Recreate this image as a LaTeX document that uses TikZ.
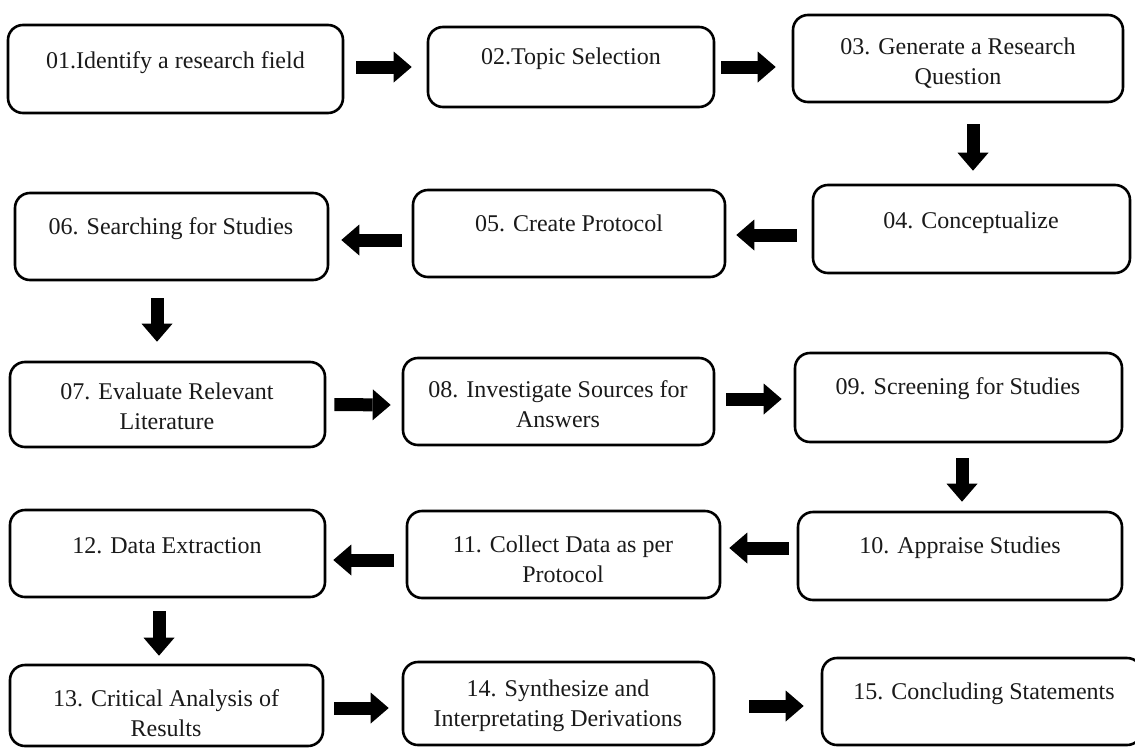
\documentclass[tikz,border=0pt]{standalone}
\usepackage{fontspec}
\setmainfont{Liberation Serif}
\usetikzlibrary{arrows.meta}
\definecolor{ink}{HTML}{1A1A1A}
\tikzset{
  stepbox/.style={draw=black, line width=2.6pt, rounded corners=15pt, inner sep=0pt, fill=white},
  steptext/.style={align=center, inner sep=0pt, text=ink, font=\fontsize{24}{30}\selectfont},
  blk/.style={draw=black, line width=13pt, -{Triangle[length=18pt,width=31pt,line width=0pt]}},
}
\begin{document}
\begin{tikzpicture}[x=1pt,y=-1pt]
\useasboundingbox (0,0) rectangle (1135,747);
% boxes
\node[stepbox, minimum width=335pt, minimum height=88pt] (b1) at (175.5,69) {};
\node[stepbox, minimum width=286pt, minimum height=80pt] (b2) at (571,67) {};
\node[stepbox, minimum width=330pt, minimum height=87pt] (b3) at (958,58.5) {};
\node[stepbox, minimum width=317pt, minimum height=88pt] (b4) at (971.5,229) {};
\node[stepbox, minimum width=312pt, minimum height=87pt] (b5) at (569,233.5) {};
\node[stepbox, minimum width=313pt, minimum height=87pt] (b6) at (171.5,236.5) {};
\node[stepbox, minimum width=315pt, minimum height=85pt] (b7) at (167.5,404.5) {};
\node[stepbox, minimum width=311pt, minimum height=87pt] (b8) at (558.5,401.5) {};
\node[stepbox, minimum width=327pt, minimum height=89pt] (b9) at (958.5,397.5) {};
\node[stepbox, minimum width=324pt, minimum height=88pt] (b10) at (960,556) {};
\node[stepbox, minimum width=313pt, minimum height=87pt] (b11) at (563.5,554.5) {};
\node[stepbox, minimum width=315pt, minimum height=87pt] (b12) at (167.5,553.5) {};
\node[stepbox, minimum width=313pt, minimum height=81pt] (b13) at (166.5,705.5) {};
\node[stepbox, minimum width=311pt, minimum height=83pt] (b14) at (558.5,703.5) {};
\node[stepbox, minimum width=320pt, minimum height=87pt] (b15) at (982,701.5) {};
% texts
\node[steptext] (t1) at (175.5,63) {01.Identify a research field};
\node[steptext] (t2) at (571,59) {02.Topic Selection};
\node[steptext] (t3) at (958,63) {03. Generate a Research\\Question};
\node[steptext] (t4) at (971,223) {04. Conceptualize};
\node[steptext] (t5) at (569,223) {05. Create Protocol};
\node[steptext] (t6) at (171,229) {06. Searching for Studies};
\node[steptext] (t7) at (167,406) {07. Evaluate Relevant\\Literature};
\node[steptext] (t8) at (558,404) {08. Investigate Sources for\\Answers};
\node[steptext] (t9) at (958,389) {09. Screening for Studies};
\node[steptext] (t10) at (960,548) {10. Appraise Studies};
\node[steptext] (t11) at (563,559) {11. Collect Data as per\\Protocol};
\node[steptext] (t12) at (167,546) {12. Data Extraction};
\node[steptext] (t13) at (166,713) {13. Critical Analysis of\\Results};
\node[steptext] (t14) at (558,706) {14. Synthesize and\\Interpretating Derivations};
\node[steptext] (t15) at (984,694) {15. Concluding Statements};
% arrows
\draw[blk, shorten <=12pt, shorten >=15pt] ([yshift=2pt]b1.east) -- (b2.west);
\draw[blk, shorten <=6pt, shorten >=16pt] (b2.east) -- ([yshift=-8.5pt]b3.west);
\draw[blk, shorten <=21pt, shorten >=13pt] ([xshift=15pt]b3.south) -- ([xshift=1.5pt]b4.north);
\draw[blk, shorten <=15pt, shorten >=10pt] ([yshift=-6pt]b4.west) -- ([yshift=-1.5pt]b5.east);
\draw[blk, shorten <=10pt, shorten >=12pt] ([yshift=-6.5pt]b5.west) -- ([yshift=-3.5pt]b6.east);
\draw[blk, shorten <=17pt, shorten >=19pt] ([xshift=-14.5pt]b6.south) -- ([xshift=-10.5pt]b7.north);
\draw[blk, shorten <=8pt, shorten >=11pt] (b7.east) -- ([yshift=-3.5pt]b8.west);
\draw[blk, shorten <=11pt, shorten >=12pt] ([yshift=2.5pt]b8.east) -- ([yshift=-1.5pt]b9.west);
\draw[blk, shorten <=15pt, shorten >=9pt] ([xshift=3.5pt]b9.south) -- ([xshift=2pt]b10.north);
\draw[blk, shorten <=8pt, shorten >=8pt] ([yshift=8pt]b10.west) -- ([yshift=6.5pt]b11.east);
\draw[blk, shorten <=12pt, shorten >=7pt] ([yshift=-5.5pt]b11.west) -- ([yshift=-6.5pt]b12.east);
\draw[blk, shorten <=13pt, shorten >=8pt] ([xshift=-8.5pt]b12.south) -- ([xshift=-7.5pt]b13.north);
\draw[blk, shorten <=10pt, shorten >=13pt] ([yshift=-2.5pt]b13.east) -- ([yshift=-4.5pt]b14.west);
\draw[blk, shorten <=34pt, shorten >=17pt] ([yshift=-2.5pt]b14.east) -- ([yshift=-4.5pt]b15.west);
\end{tikzpicture}
\end{document}
